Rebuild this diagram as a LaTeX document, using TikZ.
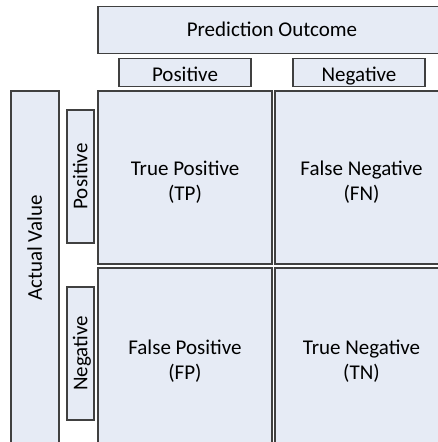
\documentclass[tikz,border=0pt]{standalone}
\usepackage{fontspec}
\setmainfont{Carlito}
\definecolor{cellfill}{HTML}{E6EBF5}
\definecolor{celledge}{HTML}{404040}
% taller first line, so two-line cell text sits a little lower
\newcommand{\cellstrut}{\rule{0pt}{23pt}}
\begin{document}
\begin{tikzpicture}[x=1pt,y=-1pt,
  cell/.style={draw=celledge,fill=cellfill,line width=1.1pt,rectangle,inner sep=0pt,
    align=center,font=\fontsize{21}{25}\selectfont,text=black},
  % single-line labels: fixed height so every baseline sits alike
  oneline/.style={text height=13.5pt,text depth=0pt},
  headline/.style={text height=17pt,text depth=0pt},
  lbl/.style={inner sep=0pt,align=center,font=\fontsize{21}{25}\selectfont,text=black}]
\useasboundingbox (0,0) rectangle (438,442);
\clip (0,0) rectangle (438,442);
\fill[white] (0,0) rectangle (438,442);

% column heading
\node[cell,oneline,minimum width=348pt,minimum height=47pt] (pred) at (272,30) {Prediction Outcome};
\node[cell,headline,minimum width=132pt,minimum height=28pt] (colpos) at (185,72.5) {Positive};
\node[cell,headline,minimum width=132pt,minimum height=28pt] (colneg) at (359,72.5) {Negative};

% row heading
\node[cell,minimum width=48pt,minimum height=380pt] (actual) at (35,281) {};
\node[lbl,oneline,rotate=90] (actualtxt) at (35,248) {Actual Value};
\node[cell,oneline,rotate=90,minimum width=133pt,minimum height=27pt] (rowpos) at (80.5,176.5) {Positive};
\node[cell,oneline,rotate=90,minimum width=133pt,minimum height=27pt] (rowneg) at (80.5,353.5) {Negative};

% confusion matrix cells
\node[cell,minimum width=174pt,minimum height=173pt] (tp) at (185,177.5) {\cellstrut True Positive\\(TP)};
\node[cell,minimum width=173pt,minimum height=173pt] (fn) at (361.5,177.5) {\cellstrut False Negative\\(FN)};
\node[cell,minimum width=174pt,minimum height=178pt] (fp) at (185,357) {\cellstrut False Positive\\(FP)};
\node[cell,minimum width=173pt,minimum height=178pt] (tn) at (361.5,357) {\cellstrut True Negative\\(TN)};
\end{tikzpicture}
\end{document}
